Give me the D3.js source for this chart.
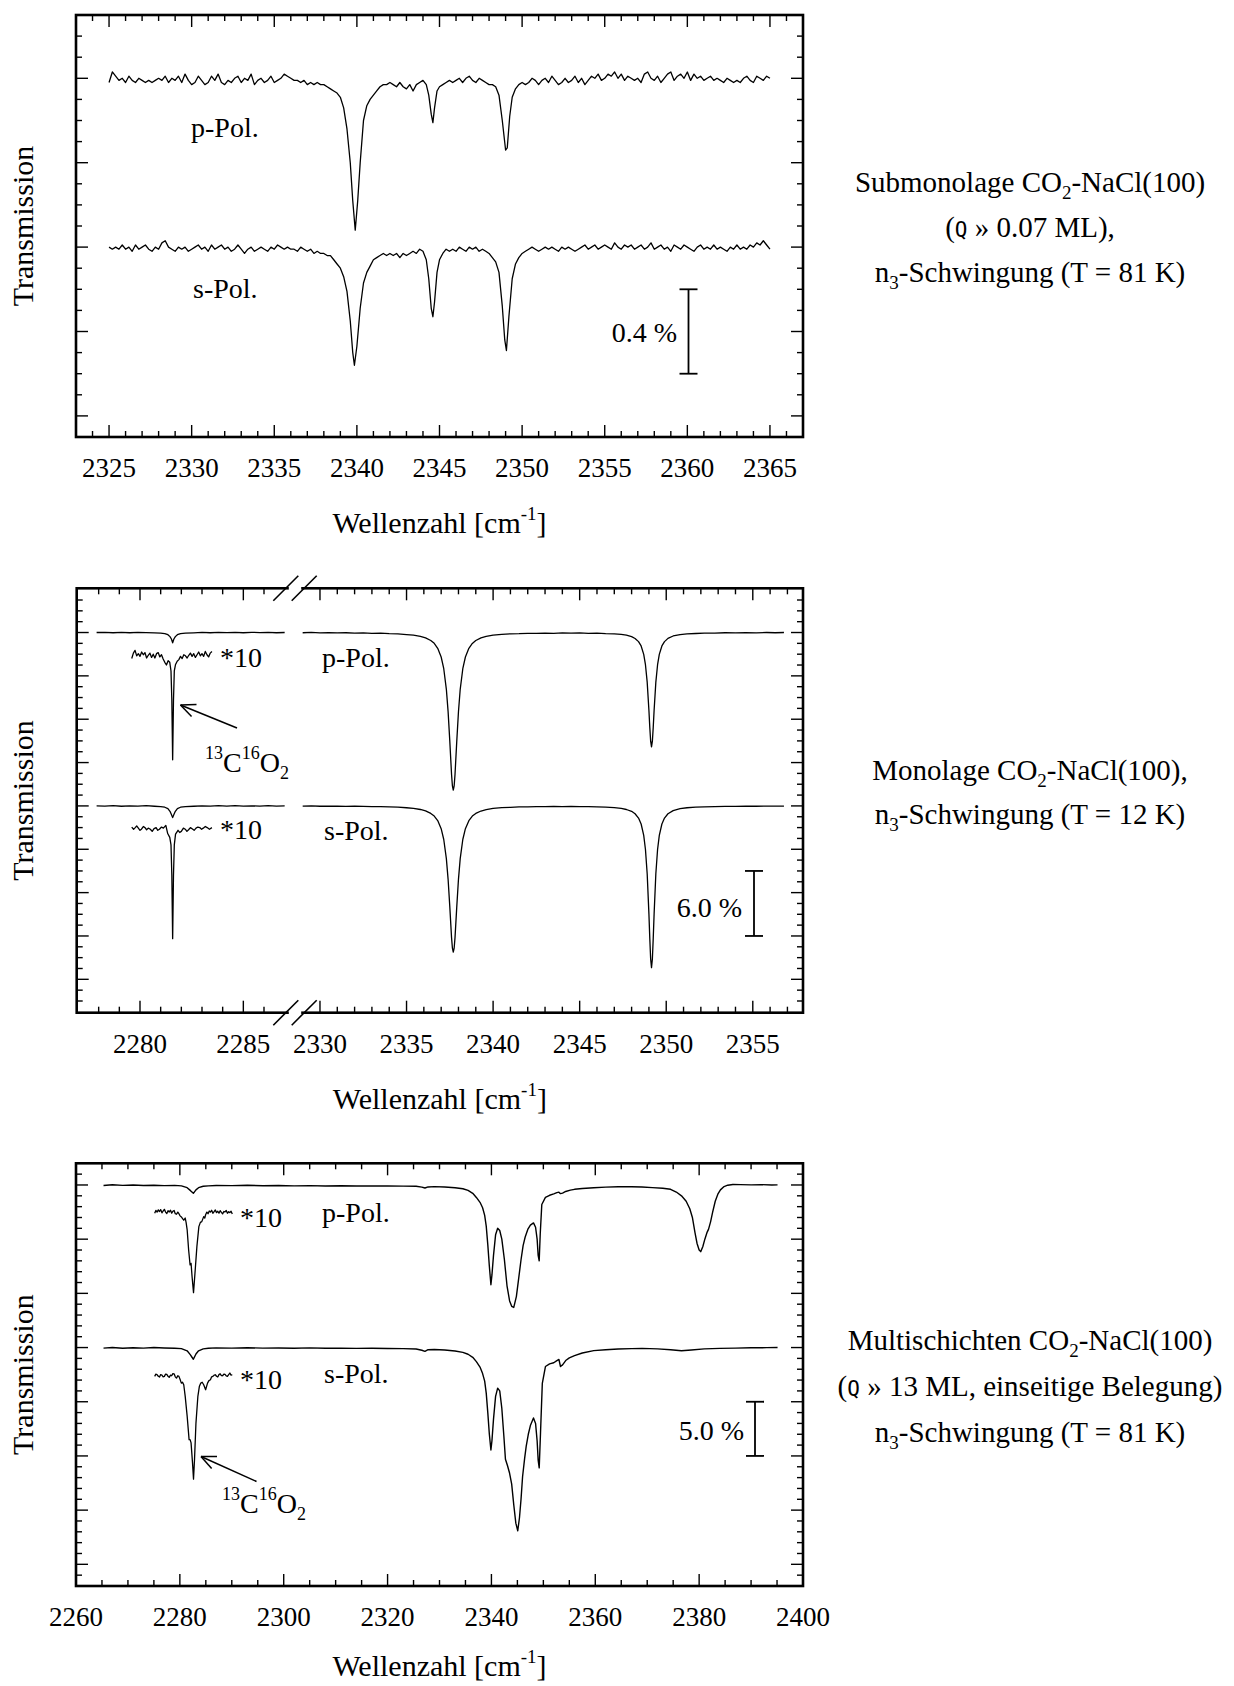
<!DOCTYPE html>
<html><head><meta charset="utf-8">
<script src="https://cdn.jsdelivr.net/npm/d3@7"></script>
<style>
body{margin:0;background:#fff;}
svg text{font-family:"Liberation Serif","Times New Roman",serif;fill:#000;}
</style></head><body>
<svg id="c" width="1234" height="1686" xmlns="http://www.w3.org/2000/svg"></svg>
<script>
// ================= DATA =================
// Panel 1: Submonolage (values: deviation from baseline in units of 0.01 %)
const subXTicks = [2325,2330,2335,2340,2345,2350,2355,2360,2365];
const subYMajor = [0.1,0.5,0.9,1.3,1.7];
const subBaseP = 1.7, subBaseS = 0.9;      // % (offset baselines)
const subBar = [0.3, 0.7];                  // scale bar 0.4 %
const subP = [[2325.0,-2],[2325.2,3],[2325.4,1],[2325.6,-1],[2325.8,0],[2326.0,-2],[2326.2,1],[2326.4,-1],[2326.6,-2],[2326.8,0],[2327.0,-1],[2327.2,-2],[2327.4,-1],[2327.6,-2],[2327.8,-1],[2328.0,0],[2328.2,-1],[2328.4,1],[2328.6,-2],[2328.8,0],[2329.0,-1],[2329.2,1],[2329.4,-2],[2329.6,2],[2329.8,-1],[2330.0,-3],[2330.2,-2],[2330.4,1],[2330.6,-1],[2330.8,-3],[2331.0,-2],[2331.2,1],[2331.4,-1],[2331.6,2],[2331.8,-2],[2332.0,-3],[2332.2,-1],[2332.4,-2],[2332.6,0],[2332.8,1],[2333.0,-2],[2333.2,0],[2333.4,-1],[2333.6,2],[2333.8,-3],[2334.0,-1],[2334.2,0],[2334.4,-2],[2334.6,-1],[2334.8,1],[2335.0,-2],[2335.2,-1],[2335.4,0],[2335.6,2],[2335.8,1],[2336.0,0],[2336.2,-1],[2336.4,-1],[2336.6,-2],[2336.8,-1],[2337.0,-3],[2337.2,-2],[2337.4,-3],[2337.6,-2],[2337.8,-3],[2338.0,-3],[2338.2,-4],[2338.4,-5],[2338.6,-6],[2338.8,-7],[2339.0,-9],[2339.2,-14],[2339.4,-24],[2339.6,-40],[2339.75,-58],[2339.9,-72],[2340.05,-58],[2340.2,-40],[2340.4,-20],[2340.6,-13],[2340.8,-10],[2341.0,-8],[2341.2,-6],[2341.4,-4],[2341.6,-3],[2341.8,-3],[2342.0,-2],[2342.2,-3],[2342.4,-4],[2342.6,-2],[2342.8,-4],[2343.0,-5],[2343.2,-3],[2343.4,-6],[2343.6,-3],[2343.8,-2],[2344.0,-1],[2344.2,-3],[2344.35,-8],[2344.5,-17],[2344.6,-21],[2344.7,-14],[2344.85,-6],[2345.0,-4],[2345.2,-3],[2345.4,-2],[2345.6,-1],[2345.8,-2],[2346.0,-1],[2346.2,0],[2346.4,-2],[2346.6,0],[2346.8,1],[2347.0,-1],[2347.2,-2],[2347.4,0],[2347.6,-1],[2347.8,-2],[2348.0,-3],[2348.2,-3],[2348.4,-4],[2348.6,-8],[2348.8,-20],[2349.0,-34],[2349.1,-33],[2349.25,-18],[2349.4,-9],[2349.6,-5],[2349.8,-3],[2350.0,-2],[2350.2,-3],[2350.4,-2],[2350.6,0],[2350.8,-1],[2351.0,-3],[2351.2,-1],[2351.4,0],[2351.6,-2],[2351.8,1],[2352.0,-1],[2352.2,-3],[2352.4,-2],[2352.6,0],[2352.8,-2],[2353.0,-1],[2353.2,1],[2353.4,-2],[2353.6,0],[2353.8,-3],[2354.0,-1],[2354.2,1],[2354.4,0],[2354.6,2],[2354.8,-1],[2355.0,0],[2355.2,2],[2355.4,1],[2355.6,3],[2355.8,0],[2356.0,2],[2356.2,-1],[2356.4,1],[2356.6,0],[2356.8,-1],[2357.0,0],[2357.2,-2],[2357.4,2],[2357.6,3],[2357.8,0],[2358.0,-1],[2358.2,1],[2358.4,-2],[2358.6,0],[2358.8,2],[2359.0,3],[2359.2,-1],[2359.4,1],[2359.6,2],[2359.8,0],[2360.0,3],[2360.2,-1],[2360.4,2],[2360.6,0],[2360.8,1],[2361.0,-1],[2361.2,0],[2361.4,1],[2361.6,-1],[2361.8,0],[2362.0,-1],[2362.2,-2],[2362.4,0],[2362.6,-1],[2362.8,-2],[2363.0,-1],[2363.2,-2],[2363.4,0],[2363.6,1],[2363.8,-1],[2364.0,-2],[2364.2,1],[2364.4,0],[2364.6,-1],[2364.8,1],[2365.0,0]];
const subS = [[2325.0,0],[2325.2,-1],[2325.4,0],[2325.6,-1],[2325.8,1],[2326.0,-1],[2326.2,0],[2326.4,-2],[2326.6,1],[2326.8,-1],[2327.0,0],[2327.2,1],[2327.4,-1],[2327.6,-2],[2327.8,0],[2328.0,-1],[2328.2,2],[2328.4,3],[2328.6,0],[2328.8,-1],[2329.0,-2],[2329.2,0],[2329.4,-1],[2329.6,0],[2329.8,-2],[2330.0,-1],[2330.2,0],[2330.4,1],[2330.6,-1],[2330.8,0],[2331.0,-2],[2331.2,1],[2331.4,-1],[2331.6,0],[2331.8,1],[2332.0,-1],[2332.2,0],[2332.4,-2],[2332.6,-1],[2332.8,1],[2333.0,-1],[2333.2,-3],[2333.4,-1],[2333.6,0],[2333.8,-2],[2334.0,-1],[2334.2,0],[2334.4,-1],[2334.6,-2],[2334.8,0],[2335.0,-1],[2335.2,1],[2335.4,0],[2335.6,-1],[2335.8,0],[2336.0,-1],[2336.2,-1],[2336.4,-2],[2336.6,0],[2336.8,-1],[2337.0,-2],[2337.2,-1],[2337.4,-3],[2337.6,-2],[2337.8,-3],[2338.0,-3],[2338.2,-4],[2338.4,-4],[2338.6,-6],[2338.8,-8],[2339.0,-10],[2339.2,-14],[2339.4,-21],[2339.6,-35],[2339.75,-50],[2339.85,-56],[2340.0,-47],[2340.2,-29],[2340.4,-17],[2340.6,-12],[2340.8,-9],[2341.0,-6],[2341.2,-5],[2341.4,-4],[2341.6,-3],[2341.8,-4],[2342.0,-3],[2342.2,-4],[2342.4,-3],[2342.6,-5],[2342.8,-3],[2343.0,-4],[2343.2,-3],[2343.4,-2],[2343.6,-3],[2343.8,-1],[2344.0,-2],[2344.2,-6],[2344.35,-15],[2344.5,-29],[2344.6,-33],[2344.7,-26],[2344.85,-12],[2345.0,-6],[2345.2,-3],[2345.4,-1],[2345.6,-2],[2345.8,-1],[2346.0,-2],[2346.2,0],[2346.4,-1],[2346.6,-2],[2346.8,0],[2347.0,-1],[2347.2,0],[2347.4,-2],[2347.6,-1],[2347.8,-2],[2348.0,-3],[2348.2,-5],[2348.4,-7],[2348.6,-12],[2348.8,-28],[2348.95,-44],[2349.05,-49],[2349.2,-33],[2349.4,-15],[2349.6,-8],[2349.8,-5],[2350.0,-3],[2350.2,-2],[2350.4,-1],[2350.6,0],[2350.8,-1],[2351.0,-2],[2351.2,-1],[2351.4,0],[2351.6,-1],[2351.8,0],[2352.0,-1],[2352.2,-2],[2352.4,0],[2352.6,-1],[2352.8,0],[2353.0,-1],[2353.2,-2],[2353.4,-1],[2353.6,0],[2353.8,1],[2354.0,-1],[2354.2,0],[2354.4,1],[2354.6,-1],[2354.8,0],[2355.0,1],[2355.2,0],[2355.4,-1],[2355.6,2],[2355.8,0],[2356.0,-1],[2356.2,1],[2356.4,0],[2356.6,1],[2356.8,-1],[2357.0,0],[2357.2,1],[2357.4,-1],[2357.6,0],[2357.8,2],[2358.0,-1],[2358.2,0],[2358.4,1],[2358.6,-1],[2358.8,0],[2359.0,-2],[2359.2,1],[2359.4,0],[2359.6,-1],[2359.8,1],[2360.0,0],[2360.2,-1],[2360.4,-2],[2360.6,0],[2360.8,1],[2361.0,-1],[2361.2,0],[2361.4,-1],[2361.6,1],[2361.8,-1],[2362.0,0],[2362.2,-1],[2362.4,-2],[2362.6,0],[2362.8,-1],[2363.0,1],[2363.2,-1],[2363.4,0],[2363.6,-1],[2363.8,1],[2364.0,0],[2364.2,2],[2364.4,1],[2364.6,3],[2364.8,1],[2365.0,-1]];

// Panel 2: Monolage (values: deviation from baseline in %)
const monoXTicksL = [2280,2285];
const monoXTicksR = [2330,2335,2340,2345,2350,2355];
const monoBaseP = 34, monoBaseS = 18, monoInsP = 31.75, monoInsS = 15.9;
const monoBar = [6, 12];                    // scale bar 6.0 %
const monoPL = [[2277.9,0],[2278.3,0.02],[2278.7,-0.02],[2279.1,0.02],[2279.5,-0.02],[2279.9,0.02],[2280.3,-0.01],[2280.7,-0.03],[2281.0,-0.06],[2281.2,-0.1],[2281.35,-0.2],[2281.45,-0.38],[2281.52,-0.6],[2281.58,-0.95],[2281.64,-0.6],[2281.71,-0.38],[2281.81,-0.2],[2281.96,-0.1],[2282.2,-0.06],[2282.6,-0.03],[2283.0,0.01],[2283.4,-0.02],[2283.8,0.02],[2284.2,-0.01],[2284.6,0.02],[2285.0,-0.02],[2285.4,0.02],[2285.8,-0.01],[2286.2,0.02],[2286.6,-0.02],[2287.0,0]];
const monoSL = [[2277.9,0],[2278.3,-0.02],[2278.7,0.02],[2279.1,-0.03],[2279.5,0.01],[2279.9,-0.02],[2280.3,0.02],[2280.7,-0.03],[2281.0,-0.06],[2281.2,-0.12],[2281.35,-0.25],[2281.45,-0.5],[2281.52,-0.8],[2281.58,-1.08],[2281.64,-0.8],[2281.71,-0.5],[2281.81,-0.25],[2281.96,-0.12],[2282.2,-0.06],[2282.6,-0.03],[2283.0,0.01],[2283.4,-0.02],[2283.8,0.02],[2284.2,-0.01],[2284.6,0.02],[2285.0,-0.02],[2285.4,0.01],[2285.8,-0.02],[2286.2,0.02],[2286.6,-0.01],[2287.0,0]];
const monoPIns = [[2279.6,-0.15],[2279.68,0.35],[2279.76,0.6],[2279.84,0.1],[2279.92,0.3],[2280.0,0.05],[2280.08,0.45],[2280.16,0.2],[2280.24,0.4],[2280.32,-0.1],[2280.4,0.15],[2280.48,0.35],[2280.56,-0.05],[2280.64,0.25],[2280.72,-0.1],[2280.8,0.3],[2280.88,0.4],[2280.96,0],[2281.04,0.2],[2281.12,-0.2],[2281.2,-0.5],[2281.28,-0.75],[2281.36,-0.35],[2281.44,-0.5],[2281.5,-1.3],[2281.54,-4.0],[2281.58,-9.5],[2281.62,-4.0],[2281.66,-1.3],[2281.72,-0.7],[2281.8,-0.4],[2281.88,-0.25],[2281.96,0.05],[2282.04,-0.15],[2282.12,0.2],[2282.2,0.1],[2282.28,-0.1],[2282.36,0.15],[2282.44,0.35],[2282.52,0.05],[2282.6,0.3],[2282.68,-0.05],[2282.76,0.2],[2282.84,0.45],[2282.92,0.1],[2283.0,0.3],[2283.08,0.05],[2283.16,0.5],[2283.24,0.2],[2283.32,0],[2283.4,0.35],[2283.48,0.5]];
const monoSIns = [[2279.6,0.15],[2279.69,-0.05],[2279.77,0.1],[2279.84,0.25],[2279.92,0.05],[2280.0,-0.15],[2280.07,-0.05],[2280.16,0.2],[2280.24,0.1],[2280.32,-0.1],[2280.4,0.05],[2280.5,-0.05],[2280.59,-0.25],[2280.68,0],[2280.78,0.1],[2280.86,-0.15],[2280.94,-0.05],[2281.04,0.15],[2281.13,0.05],[2281.25,0.3],[2281.34,-0.45],[2281.44,-0.8],[2281.5,-1.5],[2281.54,-4.3],[2281.58,-10.15],[2281.62,-4.3],[2281.66,-1.5],[2281.72,-0.5],[2281.84,-0.15],[2281.92,-0.35],[2282.0,-0.25],[2282.1,0.05],[2282.19,-0.05],[2282.27,-0.25],[2282.35,-0.1],[2282.44,0.1],[2282.52,0],[2282.62,-0.15],[2282.71,0.05],[2282.8,0.15],[2282.89,0.1],[2282.98,-0.05],[2283.06,0.05],[2283.16,0.2],[2283.25,0.1],[2283.36,-0.05],[2283.48,0.1]];
const monoPR = [[2329.0,-0.02],[2329.5,0.01],[2330.0,-0.03],[2330.5,-0.01],[2331.0,-0.04],[2331.5,-0.02],[2332.0,-0.05],[2332.5,-0.03],[2333.0,-0.07],[2333.5,-0.06],[2334.0,-0.1],[2334.5,-0.12],[2335.0,-0.19],[2335.4,-0.24],[2335.8,-0.36],[2336.1,-0.5],[2336.4,-0.74],[2336.6,-1.0],[2336.8,-1.46],[2337.0,-2.26],[2337.15,-3.34],[2337.3,-5.24],[2337.4,-7.28],[2337.5,-10.07],[2337.6,-13.1],[2337.65,-14.16],[2337.7,-14.55],[2337.75,-14.16],[2337.8,-13.1],[2337.9,-10.07],[2338.0,-7.28],[2338.1,-5.24],[2338.25,-3.34],[2338.4,-2.26],[2338.6,-1.46],[2338.8,-1.01],[2339.0,-0.74],[2339.3,-0.5],[2339.6,-0.36],[2340.0,-0.25],[2340.5,-0.17],[2341.0,-0.12],[2341.5,-0.11],[2342.0,-0.07],[2342.5,-0.08],[2343.0,-0.05],[2343.5,-0.07],[2344.0,-0.04],[2344.5,-0.06],[2345.0,-0.04],[2345.5,-0.07],[2346.0,-0.06],[2346.5,-0.1],[2347.0,-0.12],[2347.4,-0.18],[2347.7,-0.25],[2348.0,-0.38],[2348.2,-0.55],[2348.4,-0.84],[2348.55,-1.24],[2348.7,-2.02],[2348.8,-2.97],[2348.9,-4.58],[2349.0,-7.18],[2349.05,-8.73],[2349.1,-10.03],[2349.15,-10.55],[2349.2,-10.03],[2349.25,-8.73],[2349.3,-7.18],[2349.4,-4.58],[2349.5,-2.97],[2349.6,-2.02],[2349.75,-1.24],[2349.9,-0.84],[2350.1,-0.54],[2350.4,-0.32],[2350.8,-0.19],[2351.2,-0.13],[2351.7,-0.09],[2352.2,-0.05],[2352.8,-0.05],[2353.4,-0.02],[2354.0,-0.04],[2354.6,-0.01],[2355.2,-0.03],[2355.8,0],[2356.3,-0.02],[2356.8,0]];
const monoSR = [[2329.0,-0.02],[2329.5,0],[2330.0,-0.03],[2330.5,-0.02],[2331.0,-0.03],[2331.5,-0.04],[2332.0,-0.03],[2332.5,-0.05],[2333.0,-0.06],[2333.5,-0.07],[2334.0,-0.09],[2334.5,-0.12],[2335.0,-0.17],[2335.4,-0.23],[2335.8,-0.33],[2336.1,-0.46],[2336.4,-0.69],[2336.6,-0.94],[2336.8,-1.35],[2337.0,-2.1],[2337.15,-3.1],[2337.3,-4.86],[2337.4,-6.75],[2337.5,-9.34],[2337.6,-12.15],[2337.65,-13.13],[2337.7,-13.49],[2337.75,-13.13],[2337.8,-12.15],[2337.9,-9.34],[2338.0,-6.75],[2338.1,-4.86],[2338.25,-3.1],[2338.4,-2.1],[2338.6,-1.36],[2338.8,-0.94],[2339.0,-0.69],[2339.3,-0.47],[2339.6,-0.34],[2340.0,-0.23],[2340.5,-0.16],[2341.0,-0.13],[2341.5,-0.09],[2342.0,-0.08],[2342.5,-0.06],[2343.0,-0.07],[2343.5,-0.05],[2344.0,-0.06],[2344.5,-0.05],[2345.0,-0.07],[2345.5,-0.07],[2346.0,-0.09],[2346.5,-0.11],[2347.0,-0.16],[2347.4,-0.23],[2347.7,-0.33],[2348.0,-0.5],[2348.2,-0.72],[2348.4,-1.12],[2348.55,-1.67],[2348.7,-2.72],[2348.8,-4.02],[2348.9,-6.26],[2349.0,-9.96],[2349.05,-12.2],[2349.1,-14.13],[2349.15,-14.92],[2349.2,-14.13],[2349.25,-12.2],[2349.3,-9.96],[2349.4,-6.26],[2349.5,-4.02],[2349.6,-2.72],[2349.75,-1.67],[2349.9,-1.12],[2350.1,-0.72],[2350.4,-0.43],[2350.8,-0.25],[2351.2,-0.17],[2351.7,-0.11],[2352.2,-0.08],[2352.8,-0.06],[2353.4,-0.04],[2354.0,-0.04],[2354.6,-0.02],[2355.2,-0.03],[2355.8,-0.01],[2356.3,-0.02],[2356.8,-0.01]];

// Panel 3: Multischichten (values: deviation from baseline in %)
const multiXTicks = [2260,2280,2300,2320,2340,2360,2380,2400];
const multiBaseP = 36, multiBaseS = 21, multiInsP = 33.45, multiInsS = 18.4;
const multiBar = [11, 16];                  // scale bar 5.0 %
const multiP = [[2265.3,-0.05],[2267,0.02],[2269,-0.04],[2271,0],[2273,-0.05],[2275,-0.02],[2277,-0.06],[2279,-0.04],[2280.3,-0.08],[2281.4,-0.25],[2282.0,-0.5],[2282.6,-0.77],[2283.1,-0.45],[2283.6,-0.25],[2284.5,-0.12],[2285.5,-0.08],[2287,-0.05],[2290,-0.06],[2293,-0.03],[2296,-0.07],[2299,-0.05],[2302,-0.08],[2305,-0.06],[2308,-0.09],[2311,-0.07],[2314,-0.1],[2317,-0.08],[2320,-0.1],[2323,-0.11],[2325.5,-0.12],[2326.6,-0.2],[2327.2,-0.28],[2327.8,-0.18],[2329,-0.15],[2331,-0.18],[2333,-0.25],[2334.5,-0.35],[2335.5,-0.5],[2336.4,-0.77],[2337.1,-1.15],[2337.8,-1.6],[2338.3,-2.1],[2338.7,-2.8],[2339.0,-3.8],[2339.3,-5.5],[2339.6,-7.5],[2339.9,-9.2],[2340.1,-8.3],[2340.4,-6.5],[2340.8,-4.6],[2341.2,-4.0],[2341.6,-4.2],[2342.0,-5.0],[2342.5,-6.9],[2343.0,-9.3],[2343.5,-10.7],[2343.9,-11.2],[2344.3,-11.3],[2344.8,-10.3],[2345.2,-8.8],[2345.7,-6.9],[2346.1,-5.6],[2346.5,-4.8],[2347.0,-4.1],[2347.5,-3.7],[2348.1,-3.5],[2348.5,-3.9],[2348.8,-5.0],[2349.0,-6.5],[2349.2,-7.0],[2349.4,-4.5],[2349.7,-1.8],[2350.4,-1.15],[2351.2,-0.95],[2352.0,-0.82],[2352.6,-0.7],[2353.0,-0.66],[2353.3,-0.8],[2353.7,-0.75],[2354.3,-0.6],[2355.2,-0.48],[2356.0,-0.4],[2357.5,-0.32],[2359.7,-0.25],[2362,-0.2],[2364.4,-0.16],[2367,-0.17],[2369,-0.19],[2371,-0.24],[2373,-0.3],[2374.5,-0.4],[2375.6,-0.65],[2376.6,-1.0],[2377.5,-1.5],[2378.2,-2.2],[2378.7,-3.0],[2379.2,-4.4],[2379.6,-5.4],[2380.0,-6.0],[2380.3,-6.15],[2380.7,-5.7],[2381.1,-5.0],[2381.5,-4.4],[2381.8,-4.1],[2382.2,-3.4],[2382.6,-2.5],[2383.1,-1.5],[2383.6,-0.85],[2384.1,-0.45],[2384.8,-0.15],[2385.5,-0.02],[2386.5,0.04],[2388,0.03],[2390,0.01],[2392,0.03],[2394,0],[2395.1,0.01]];
const multiS = [[2265.3,-0.05],[2267,0],[2269,-0.06],[2271,-0.02],[2273,-0.05],[2275,0],[2277,-0.04],[2279,-0.06],[2280.3,-0.1],[2281.4,-0.3],[2282.0,-0.65],[2282.6,-1.08],[2283.1,-0.6],[2283.6,-0.3],[2284.5,-0.12],[2285.5,-0.06],[2287,-0.03],[2290,-0.05],[2293,-0.02],[2296,-0.05],[2299,-0.04],[2302,-0.06],[2305,-0.03],[2308,-0.07],[2311,-0.05],[2314,-0.08],[2317,-0.06],[2320,-0.09],[2323,-0.1],[2325.5,-0.13],[2326.6,-0.25],[2327.2,-0.35],[2327.8,-0.2],[2329,-0.18],[2331,-0.22],[2333,-0.32],[2334.5,-0.45],[2335.5,-0.62],[2336.4,-0.9],[2337.1,-1.3],[2337.8,-1.8],[2338.3,-2.4],[2338.7,-3.1],[2339.0,-4.2],[2339.3,-6.0],[2339.6,-8.0],[2339.9,-9.45],[2340.1,-8.6],[2340.4,-6.6],[2340.8,-4.5],[2341.2,-3.75],[2341.6,-4.0],[2342.0,-5.6],[2342.4,-8.2],[2342.7,-10.3],[2343.1,-10.9],[2343.5,-11.6],[2343.9,-12.6],[2344.3,-14.5],[2344.7,-16.2],[2345.07,-16.9],[2345.4,-15.7],[2345.7,-14.0],[2346.0,-11.9],[2346.4,-10.2],[2346.7,-9.1],[2347.1,-8.0],[2347.5,-7.2],[2348.1,-6.5],[2348.5,-7.0],[2348.8,-8.6],[2349.0,-10.4],[2349.2,-11.1],[2349.45,-7.9],[2349.8,-3.3],[2350.4,-1.75],[2351.2,-1.5],[2352.0,-1.4],[2352.6,-1.2],[2353.0,-1.1],[2353.3,-1.75],[2353.7,-1.6],[2354.3,-1.2],[2355.0,-0.95],[2356.0,-0.75],[2357.5,-0.5],[2359.7,-0.28],[2362,-0.2],[2364.4,-0.14],[2367,-0.1],[2369,-0.08],[2372,-0.12],[2374.5,-0.2],[2376.6,-0.3],[2378.5,-0.22],[2381,-0.12],[2384,-0.08],[2387,-0.05],[2390,-0.02],[2393,-0.01],[2395.1,0]];
const multiPIns = [[2275.15,-0.06],[2275.38,0.2],[2275.62,0.05],[2275.85,0.25],[2276.08,0.1],[2276.3,0.28],[2276.55,-0.02],[2276.78,0.15],[2277.02,0.3],[2277.25,0.05],[2277.49,-0.08],[2277.72,0.18],[2277.95,0.06],[2278.2,0.22],[2278.42,-0.05],[2278.65,0.12],[2278.89,0.2],[2279.12,-0.1],[2279.35,-0.15],[2279.6,0.05],[2279.82,-0.1],[2280.05,-0.3],[2280.29,-0.4],[2280.52,-0.55],[2280.75,-0.7],[2281.03,-0.5],[2281.2,-0.9],[2281.41,-1.6],[2281.69,-3.45],[2281.97,-4.83],[2282.16,-4.68],[2282.35,-5.9],[2282.63,-7.38],[2282.91,-5.6],[2283.28,-3.14],[2283.66,-1.29],[2283.95,-0.9],[2284.22,-0.83],[2284.59,-0.37],[2284.8,-0.5],[2284.96,-0.2],[2285.2,0.05],[2285.43,-0.1],[2285.66,0.15],[2285.89,0.05],[2286.12,0.22],[2286.36,-0.06],[2286.6,0.1],[2286.83,0.25],[2287.06,0],[2287.3,0.12],[2287.53,-0.05],[2287.76,0.18],[2288.0,0.02],[2288.23,-0.12],[2288.47,0.1],[2288.7,0.06],[2288.93,0.2],[2289.16,-0.06],[2289.4,0.08],[2289.63,0],[2289.86,0.12],[2290.1,-0.12]];
const multiSIns = [[2275.15,-0.06],[2275.38,0.15],[2275.62,0.09],[2275.85,-0.05],[2276.08,-0.12],[2276.3,0.1],[2276.55,0.06],[2276.78,-0.1],[2277.02,-0.06],[2277.25,0.15],[2277.49,0.12],[2277.72,-0.05],[2277.95,-0.15],[2278.2,0.05],[2278.42,0],[2278.65,0.2],[2278.89,0.18],[2279.12,-0.1],[2279.35,-0.22],[2279.6,0],[2279.82,-0.06],[2280.05,-0.35],[2280.29,-0.68],[2280.52,-0.6],[2280.75,-0.83],[2281.03,-1.9],[2281.41,-3.75],[2281.78,-5.9],[2281.97,-5.9],[2282.16,-6.2],[2282.44,-8.06],[2282.63,-9.54],[2282.82,-7.75],[2283.1,-4.37],[2283.47,-1.9],[2283.75,-1.0],[2284.03,-0.68],[2284.3,-0.6],[2284.59,-0.83],[2284.96,-1.29],[2285.33,-0.68],[2285.6,-0.45],[2285.89,-0.37],[2286.12,-0.1],[2286.36,-0.06],[2286.6,0.05],[2286.83,0.09],[2287.06,-0.05],[2287.3,-0.12],[2287.53,0.1],[2287.76,0.18],[2288.0,0.02],[2288.23,0],[2288.47,0.15],[2288.7,0.12],[2288.93,-0.02],[2289.16,-0.06],[2289.4,0.1],[2289.63,0.25],[2289.86,0.05],[2290.1,0.09]];

// ================= DRAWING =================
const svg = d3.select('#c');
const FS_TICK = 27, FS_LAB = 28, FS_SIDE = 29, FS_TITLE = 30;
const MINOR = 6, MAJOR = 12;

function frame(g, f){
  g.append('rect').attr('x',f.x0).attr('y',f.y0).attr('width',f.x1-f.x0).attr('height',f.y1-f.y0)
   .attr('fill','none').attr('stroke','#000').attr('stroke-width',2.6);
}
function xTicks(g, sc, vals, len, f){
  vals.forEach(v=>{
    const X = sc(v);
    g.append('line').attr('x1',X).attr('x2',X).attr('y1',f.y1).attr('y2',f.y1-len).attr('stroke','#000').attr('stroke-width',1.4);
    g.append('line').attr('x1',X).attr('x2',X).attr('y1',f.y0).attr('y2',f.y0+len).attr('stroke','#000').attr('stroke-width',1.4);
  });
}
function yTicks(g, sc, vals, len, f){
  vals.forEach(v=>{
    const Y = sc(v);
    g.append('line').attr('x1',f.x0).attr('x2',f.x0+len).attr('y1',Y).attr('y2',Y).attr('stroke','#000').attr('stroke-width',1.4);
    g.append('line').attr('x1',f.x1).attr('x2',f.x1-len).attr('y1',Y).attr('y2',Y).attr('stroke','#000').attr('stroke-width',1.4);
  });
}
function tickLabels(g, sc, vals, f){
  vals.forEach(v=>{
    g.append('text').attr('x',sc(v)).attr('y',f.y1+40).attr('text-anchor','middle').attr('font-size',FS_TICK).text(v);
  });
}
function spectrum(g, xs, ys, data, base, k, w){
  const line = d3.line().x(d=>xs(d[0])).y(d=>ys(base + d[1]*k));
  g.append('path').attr('d',line(data)).attr('fill','none').attr('stroke','#000')
   .attr('stroke-width',w||1.3).attr('stroke-linejoin','round');
}
function xTitle(g, f, dy){
  const t = g.append('text').attr('x',(f.x0+f.x1)/2).attr('y',f.y1+(dy||96)).attr('text-anchor','middle').attr('font-size',FS_TITLE);
  t.append('tspan').text('Wellenzahl [cm');
  t.append('tspan').attr('font-size',19).attr('dy',-13).text('-1');
  t.append('tspan').attr('dy',13).text(']');
}
function yTitle(g, f){
  g.append('text').attr('transform',`translate(33,${(f.y0+f.y1)/2}) rotate(-90)`)
   .attr('text-anchor','middle').attr('font-size',FS_TITLE).text('Transmission');
}
function label(g, x, y, txt, anchor){
  g.append('text').attr('x',x).attr('y',y).attr('font-size',FS_LAB).attr('text-anchor',anchor||'start').text(txt);
}
function scaleBar(g, X, ys, range, txt, lx, ly){
  const y0 = ys(range[0]), y1 = ys(range[1]);
  g.append('line').attr('x1',X).attr('x2',X).attr('y1',y0).attr('y2',y1).attr('stroke','#000').attr('stroke-width',1.8);
  [y0,y1].forEach(Y=> g.append('line').attr('x1',X-9).attr('x2',X+9).attr('y1',Y).attr('y2',Y).attr('stroke','#000').attr('stroke-width',1.8));
  label(g, lx, ly, txt, 'end');
}
function isotope(g, x, y){
  const t = g.append('text').attr('x',x).attr('y',y).attr('font-size',FS_LAB);
  t.append('tspan').attr('font-size',18).attr('dy',-13).text('13');
  t.append('tspan').attr('dy',13).text('C');
  t.append('tspan').attr('font-size',18).attr('dy',-13).text('16');
  t.append('tspan').attr('dy',13).text('O');
  t.append('tspan').attr('font-size',18).attr('dy',7).text('2');
}
function arrow(g, x1, y1, x2, y2){
  g.append('line').attr('x1',x1).attr('y1',y1).attr('x2',x2).attr('y2',y2).attr('stroke','#000').attr('stroke-width',1.5);
  const a = Math.atan2(y1-y2, x1-x2), L = 16, s = 0.42;
  [a+s, a-s].forEach(b=> g.append('line').attr('x1',x2).attr('y1',y2)
      .attr('x2',x2+L*Math.cos(b)).attr('y2',y2+L*Math.sin(b)).attr('stroke','#000').attr('stroke-width',1.5));
}
function sideText(g, x, y, parts){
  const t = g.append('text').attr('x',x).attr('y',y).attr('text-anchor','middle').attr('font-size',FS_SIDE);
  parts.forEach(p=>{
    const s = t.append('tspan').text(p.t);
    if (p.sub){ s.attr('font-size',19).attr('dy',7); }
    if (p.back){ s.attr('dy',-7); }
    if (p.mono){ s.attr('font-family','DejaVu Sans Mono').attr('font-size',21); }
  });
}

// ---------- Panel 1 ----------
{
  const f = {x0:76, x1:803, y0:15, y1:437};
  const g = svg.append('g');
  const x = d3.scaleLinear().domain([2323,2367]).range([f.x0,f.x1]);
  const y = d3.scaleLinear().domain([0,2.0]).range([f.y1,f.y0]);
  xTicks(g, x, d3.range(2324,2367,1).filter(v=>!subXTicks.includes(v)), MINOR, f);
  xTicks(g, x, subXTicks, MAJOR, f);
  yTicks(g, y, d3.range(1,20).map(i=>i/10).filter(v=>!subYMajor.some(m=>Math.abs(m-v)<1e-6)), MINOR, f);
  yTicks(g, y, subYMajor, MAJOR, f);
  spectrum(g, x, y, subP, subBaseP, 0.01);
  spectrum(g, x, y, subS, subBaseS, 0.01);
  frame(g, f);
  tickLabels(g, x, subXTicks, f);
  xTitle(g, f); yTitle(g, f);
  label(g, 191, 137, 'p-Pol.');
  label(g, 193, 298, 's-Pol.');
  scaleBar(g, 688.5, y, subBar, '0.4 %', 677, 342);
  sideText(g, 1030, 192, [{t:'Submonolage CO'},{t:'2',sub:true},{t:'-NaCl(100)',back:true}]);
  sideText(g, 1030, 237, [{t:'('},{t:'Q',mono:true},{t:' » 0.07 ML),'}]);
  sideText(g, 1030, 282, [{t:'n'},{t:'3',sub:true},{t:'-Schwingung (T = 81 K)',back:true}]);
}

// ---------- Panel 2 (broken axis) ----------
{
  const f = {x0:76.7, x1:803, y0:588.3, y1:1012.7};
  const g = svg.append('g');
  const xL = d3.scaleLinear().domain([2277,2287.2]).range([78,288.8]);
  const xR = d3.scaleLinear().domain([2328.8,2357.9]).range([299.2,803]);
  const y = d3.scaleLinear().domain([-1.08,38.08]).range([f.y1,f.y0]);
  xTicks(g, xL, d3.range(2278,2287,1).filter(v=>!monoXTicksL.includes(v)), MINOR, f);
  xTicks(g, xL, monoXTicksL, MAJOR, f);
  xTicks(g, xR, d3.range(2331,2358,1).filter(v=>!monoXTicksR.includes(v)), MINOR, f);
  xTicks(g, xR, monoXTicksR, MAJOR, f);
  const yMaj = d3.range(2,35,4);
  yTicks(g, y, d3.range(0,38,1).filter(v=>!yMaj.includes(v)), MINOR, f);
  yTicks(g, y, yMaj, MAJOR, f);
  spectrum(g, xL, y, monoPL, monoBaseP, 1);
  spectrum(g, xR, y, monoPR, monoBaseP, 1);
  spectrum(g, xL, y, monoSL, monoBaseS, 1);
  spectrum(g, xR, y, monoSR, monoBaseS, 1);
  spectrum(g, xL, y, monoPIns, monoInsP, 1);
  spectrum(g, xL, y, monoSIns, monoInsS, 1);
  frame(g, f);
  // break marks
  [f.y0, f.y1].forEach(Y=>{
    g.append('polygon').attr('points',`${285.8+3},${Y-3} ${304.2-3},${Y-3} ${304.2-3},${Y+3} ${285.8+3},${Y+3}`)
      .attr('fill','#fff');
    [285.8, 304.2].forEach(cx=> g.append('line').attr('x1',cx-12.5).attr('y1',Y+12.5).attr('x2',cx+12.5).attr('y2',Y-12.5)
      .attr('stroke','#000').attr('stroke-width',1.6));
  });
  tickLabels(g, xL, monoXTicksL, f);
  tickLabels(g, xR, monoXTicksR, f);
  xTitle(g, f); yTitle(g, f);
  label(g, 220, 667, '*10');
  label(g, 220, 839, '*10');
  label(g, 322, 667, 'p-Pol.');
  label(g, 324, 840, 's-Pol.');
  isotope(g, 205, 772);
  arrow(g, 237, 728, 180.5, 705);
  scaleBar(g, 754, y, monoBar, '6.0 %', 742, 917);
  sideText(g, 1030, 780, [{t:'Monolage CO'},{t:'2',sub:true},{t:'-NaCl(100),',back:true}]);
  sideText(g, 1030, 824, [{t:'n'},{t:'3',sub:true},{t:'-Schwingung (T = 12 K)',back:true}]);
}

// ---------- Panel 3 ----------
{
  const f = {x0:76, x1:803, y0:1163.3, y1:1586};
  const g = svg.append('g');
  const x = d3.scaleLinear().domain([2260,2400]).range([f.x0,f.x1]);
  const y = d3.scaleLinear().domain([-1,38]).range([f.y1,f.y0]);
  xTicks(g, x, d3.range(2265,2400,5).filter(v=>v%20!==0), MINOR, f);
  xTicks(g, x, multiXTicks.slice(1,-1), MAJOR, f);
  const yMaj = d3.range(1,37,5);
  yTicks(g, y, d3.range(0,38,1).filter(v=>!yMaj.includes(v)), MINOR, f);
  yTicks(g, y, yMaj, MAJOR, f);
  spectrum(g, x, y, multiP, multiBaseP, 1, 1.4);
  spectrum(g, x, y, multiS, multiBaseS, 1, 1.4);
  spectrum(g, x, y, multiPIns, multiInsP, 1, 1.3);
  spectrum(g, x, y, multiSIns, multiInsS, 1, 1.3);
  frame(g, f);
  tickLabels(g, x, multiXTicks, f);
  xTitle(g, f, 90); yTitle(g, f);
  label(g, 240, 1227, '*10');
  label(g, 240, 1389, '*10');
  label(g, 322, 1222, 'p-Pol.');
  label(g, 324, 1383, 's-Pol.');
  isotope(g, 222, 1513);
  arrow(g, 256.5, 1481.5, 201, 1456.5);
  scaleBar(g, 755, y, multiBar, '5.0 %', 744, 1440);
  sideText(g, 1030, 1350, [{t:'Multischichten CO'},{t:'2',sub:true},{t:'-NaCl(100)',back:true}]);
  sideText(g, 1030, 1396, [{t:'('},{t:'Q',mono:true},{t:' » 13 ML, einseitige Belegung)'}]);
  sideText(g, 1030, 1442, [{t:'n'},{t:'3',sub:true},{t:'-Schwingung (T = 81 K)',back:true}]);
}
</script></body></html>
